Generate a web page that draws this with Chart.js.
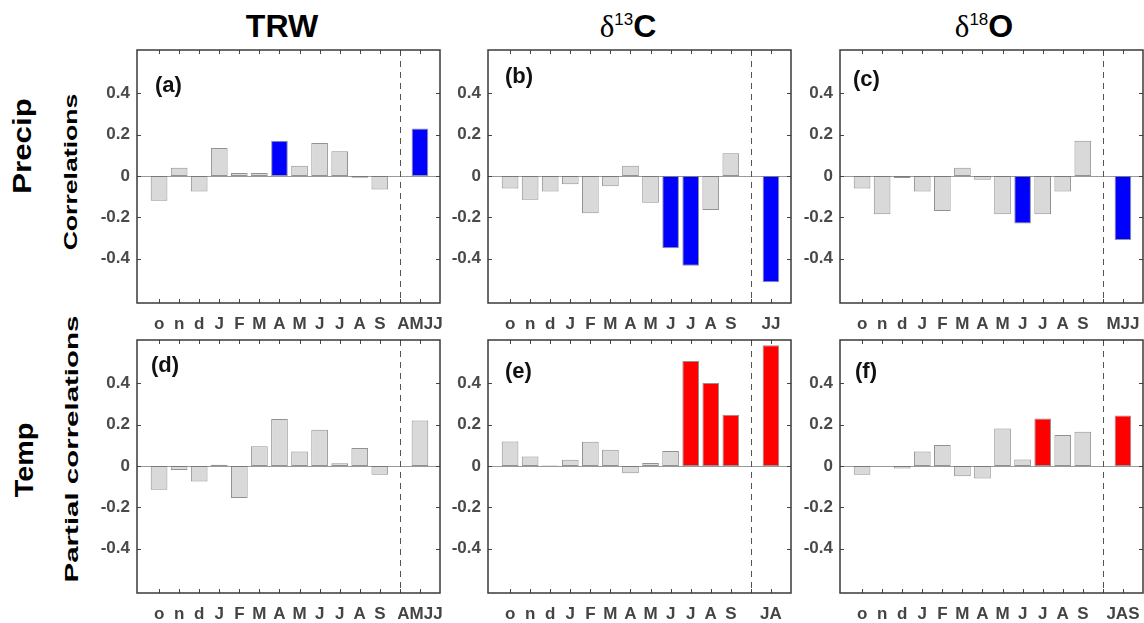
<!DOCTYPE html>
<html>
<head>
<meta charset="utf-8">
<script src="https://cdn.jsdelivr.net/npm/chart.js@4.4.0/dist/chart.umd.min.js"></script>
<style>
  body { margin: 0; width: 1144px; height: 623px; overflow: hidden; background: #fff;
         font-family: 'Liberation Sans', Arial, sans-serif; position: relative; }
  .panel { position: absolute; }
  .title { position: absolute; top: 8px; width: 200px; text-align: center; font-weight: bold;
           font-size: 32px; line-height: 36px; color: #000; white-space: nowrap; }
  .title .delta { font-family: 'Liberation Serif', serif; font-weight: normal; font-size: 31px; }
  .title sup { font-size: 17px; font-weight: normal; vertical-align: 12px; line-height: 0; }
  .rowlab { position: absolute; white-space: nowrap; font-weight: bold; color: #000; line-height: 1;
            transform-origin: center; }
</style>
</head>
<body>
<div class="title" style="left:182px">TRW</div>
<div class="title" style="left:528px"><span class="delta">δ</span><sup>13</sup>C</div>
<div class="title" style="left:884px"><span class="delta">δ</span><sup>18</sup>O</div>

<div class="rowlab" style="left:22px; top:146px; font-size:25px; transform:translate(-50%,-50%) rotate(-90deg) scaleX(1.25)">Precip</div>
<div class="rowlab" style="left:70px; top:172px; font-size:19px; transform:translate(-50%,-50%) rotate(-90deg) scaleX(1.4)">Correlations</div>
<div class="rowlab" style="left:24px; top:460px; font-size:25px; transform:translate(-50%,-50%) rotate(-90deg) scaleX(1.15)">Temp</div>
<div class="rowlab" style="left:71px; top:449px; font-size:19px; transform:translate(-50%,-50%) rotate(-90deg) scaleX(1.55)">Partial correlations</div>

<canvas id="pa" class="panel"></canvas>
<canvas id="pb" class="panel"></canvas>
<canvas id="pc" class="panel"></canvas>
<canvas id="pd" class="panel"></canvas>
<canvas id="pe" class="panel"></canvas>
<canvas id="pf" class="panel"></canvas>

<script>
// months from previous October to current September; last value of each series is the seasonal window
const months = ['o', 'n', 'd', 'J', 'F', 'M', 'A', 'M', 'J', 'J', 'A', 'S'];
const yTicks = [-0.4, -0.2, 0, 0.2, 0.4];

// correlations with precipitation
const precipTRW = [-0.12, 0.04, -0.075, 0.135, 0.015, 0.015, 0.17, 0.05, 0.16, 0.12, -0.008, -0.065, 0.23];
const precipC13 = [-0.06, -0.115, -0.075, -0.04, -0.18, -0.05, 0.05, -0.13, -0.35, -0.435, -0.165, 0.11, -0.515];
const precipO18 = [-0.06, -0.185, -0.01, -0.075, -0.17, 0.04, -0.018, -0.185, -0.23, -0.185, -0.075, 0.17, -0.31];

// partial correlations with temperature
const tempTRW = [-0.115, -0.02, -0.075, 0.006, -0.155, 0.095, 0.228, 0.07, 0.175, 0.013, 0.087, -0.043, 0.22];
const tempC13 = [0.118, 0.046, 0.002, 0.03, 0.117, 0.078, -0.035, 0.015, 0.072, 0.508, 0.402, 0.248, 0.585];
const tempO18 = [-0.043, 0, -0.012, 0.07, 0.102, -0.05, -0.06, 0.182, 0.031, 0.23, 0.15, 0.166, 0.244];

const seasonLabels = ['AMJJ', 'JJ', 'MJJ', 'AMJJ', 'JA', 'JAS'];

// 1 = significant
const sigPrecipTRW = [0, 0, 0, 0, 0, 0, 1, 0, 0, 0, 0, 0, 1];
const sigPrecipC13 = [0, 0, 0, 0, 0, 0, 0, 0, 1, 1, 0, 0, 1];
const sigPrecipO18 = [0, 0, 0, 0, 0, 0, 0, 0, 1, 0, 0, 0, 1];
const sigTempTRW   = [0, 0, 0, 0, 0, 0, 0, 0, 0, 0, 0, 0, 0];
const sigTempC13   = [0, 0, 0, 0, 0, 0, 0, 0, 0, 1, 1, 1, 1];
const sigTempO18   = [0, 0, 0, 0, 0, 0, 0, 0, 0, 1, 0, 0, 1];

const BOX_W = 303, BOX_H = 253, Y_AXIS_W = 60, X_AXIS_H = 40, PAD = 4;

const panels = [
  { id: 'pa', tag: '(a)', values: precipTRW, sig: sigPrecipTRW, season: seasonLabels[0], hot: '#0000ff', left: 137, top: 50, tx: 18, ty: 36 },
  { id: 'pb', tag: '(b)', values: precipC13, sig: sigPrecipC13, season: seasonLabels[1], hot: '#0000ff', left: 488, top: 50, tx: 17, ty: 27 },
  { id: 'pc', tag: '(c)', values: precipO18, sig: sigPrecipO18, season: seasonLabels[2], hot: '#0000ff', left: 840, top: 50, tx: 13, ty: 30 },
  { id: 'pd', tag: '(d)', values: tempTRW,   sig: sigTempTRW,   season: seasonLabels[3], hot: '#ff0000', left: 137, top: 340, tx: 14, ty: 26 },
  { id: 'pe', tag: '(e)', values: tempC13,   sig: sigTempC13,   season: seasonLabels[4], hot: '#ff0000', left: 488, top: 340, tx: 17, ty: 32 },
  { id: 'pf', tag: '(f)', values: tempO18,   sig: sigTempO18,   season: seasonLabels[5], hot: '#ff0000', left: 840, top: 340, tx: 15, ty: 32 }
];

Chart.defaults.font.family = "'Liberation Sans', Arial, sans-serif";

// box, inward ticks, zero line, divider and panel letter
const frame = {
  id: 'frame',
  beforeDatasetsDraw(chart) {
    const { ctx, chartArea: a, scales: { y } } = chart;
    const y0 = Math.round(y.getPixelForValue(0)) + 0.5;
    ctx.save();
    ctx.strokeStyle = '#9a9a9a';
    ctx.lineWidth = 1;
    ctx.beginPath();
    ctx.moveTo(a.left, y0);
    ctx.lineTo(a.right, y0);
    ctx.stroke();
    ctx.restore();
  },
  afterDraw(chart, args, opts) {
    const { ctx, chartArea: a, scales: { x, y } } = chart;
    ctx.save();
    ctx.strokeStyle = '#555';
    ctx.lineWidth = 1;
    ctx.setLineDash([6, 5]);
    const xd = Math.round(x.getPixelForValue(months.length + 1)) + 0.5;
    ctx.beginPath();
    ctx.moveTo(xd, a.top);
    ctx.lineTo(xd, a.bottom);
    ctx.stroke();
    ctx.setLineDash([]);

    ctx.strokeStyle = '#444';
    ctx.beginPath();
    x.ticks.forEach(t => {
      const px = Math.round(x.getPixelForValue(t.value)) + 0.5;
      ctx.moveTo(px, a.top); ctx.lineTo(px, a.top + 4);
      ctx.moveTo(px, a.bottom); ctx.lineTo(px, a.bottom - 4);
    });
    y.ticks.forEach(t => {
      const py = Math.round(y.getPixelForValue(t.value)) + 0.5;
      ctx.moveTo(a.left, py); ctx.lineTo(a.left + 4, py);
      ctx.moveTo(a.right, py); ctx.lineTo(a.right - 4, py);
    });
    ctx.stroke();

    ctx.strokeStyle = '#3a3a3a';
    ctx.lineWidth = 1.5;
    ctx.strokeRect(a.left, a.top, a.right - a.left, a.bottom - a.top);

    ctx.fillStyle = '#111';
    ctx.font = "bold 22px 'Liberation Sans', Arial, sans-serif";
    ctx.textBaseline = 'middle';
    ctx.textAlign = 'left';
    ctx.fillText(opts.tag, a.left + opts.tx, a.top + opts.ty);
    ctx.restore();
  }
};

function makePanel(p) {
  const canvas = document.getElementById(p.id);
  canvas.width = Y_AXIS_W + BOX_W + PAD;
  canvas.height = PAD + BOX_H + X_AXIS_H;
  canvas.style.left = (p.left - Y_AXIS_W) + 'px';
  canvas.style.top = (p.top - PAD) + 'px';

  const seasonPos = months.length + 2;
  const points = p.values.map((v, i) => ({ x: i < months.length ? i + 1 : seasonPos, y: v }));
  const fills = p.sig.map(s => s ? p.hot : '#d9d9d9');

  return new Chart(canvas, {
    type: 'bar',
    data: {
      datasets: [{
        data: points,
        backgroundColor: fills,
        borderColor: 'rgba(110,110,110,0.75)',
        borderWidth: 1,
        borderSkipped: false,
        barPercentage: 0.83,
        categoryPercentage: 1
      }]
    },
    options: {
      responsive: false,
      animation: false,
      layout: { padding: { top: PAD, right: PAD, left: 0, bottom: 0 } },
      plugins: { legend: { display: false }, tooltip: { enabled: false }, frame: { tag: p.tag, tx: p.tx, ty: p.ty } },
      scales: {
        x: {
          type: 'linear',
          offset: false,
          min: -0.1,
          max: 15,
          grid: { display: false, drawTicks: false },
          border: { display: false },
          afterBuildTicks: s => { s.ticks = Array.from({ length: seasonPos }, (_, i) => ({ value: i + 1 })); },
          afterFit: s => { s.height = X_AXIS_H; s.paddingLeft = 0; s.paddingRight = 0; },
          ticks: {
            autoSkip: false,
            maxRotation: 0,
            padding: 11,
            color: '#444',
            font: { size: 17, weight: 'bold' },
            callback: v => v <= months.length ? months[v - 1] : (v === seasonPos ? p.season : '')
          }
        },
        y: {
          min: -0.615,
          max: 0.61,
          grid: { display: false, drawTicks: false },
          border: { display: false },
          afterBuildTicks: s => { s.ticks = yTicks.map(v => ({ value: v })); },
          afterFit: s => { s.width = Y_AXIS_W; s.paddingTop = 0; s.paddingBottom = 0; },
          ticks: {
            padding: 7,
            color: '#4a4a4a',
            font: { size: 17, weight: 'bold' },
            callback: v => v === 0 ? '0' : v.toFixed(1)
          }
        }
      }
    },
    plugins: [frame]
  });
}

panels.forEach(makePanel);
</script>
</body>
</html>
